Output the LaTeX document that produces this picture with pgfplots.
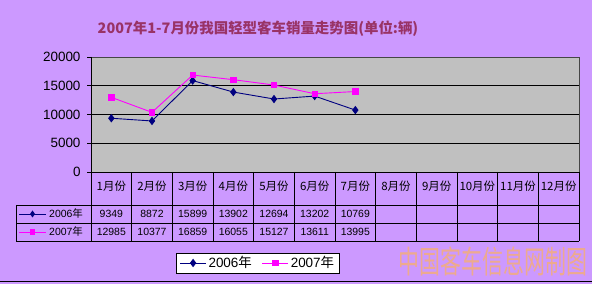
\documentclass[border=0pt]{standalone}
\usepackage{pgfplots}
\pgfplotsset{compat=1.18}
\usepackage{fontspec}
\setmainfont{Liberation Sans}
\newfontfamily\cjk{Noto Sans CJK SC}
\definecolor{bg}{HTML}{CC99FF}
\definecolor{plotbg}{HTML}{C0C0C0}
\definecolor{titlec}{HTML}{993366}
\definecolor{sA}{HTML}{000080}
\definecolor{sB}{HTML}{FF00FF}
\definecolor{wm}{HTML}{EDAA8E}
\begin{document}
\begin{tikzpicture}
\fill[bg] (0,0) rectangle (592bp,284bp);
\useasboundingbox (0,0) rectangle (592bp,284bp);
\node[text=titlec, font=\cjk\bfseries\fontsize{14.5}{16}\selectfont] at (258bp,255bp) {2007年1-7月份我国轻型客车销量走势图(单位:辆)};
\begin{axis}[
  at={(91bp,112bp)}, anchor=south west,
  scale only axis, width=488bp, height=115bp,
  xmin=0, xmax=12, ymin=0, ymax=20000,
  xtick=\empty, ytick={0,5000,10000,15000,20000},
  scaled y ticks=false,
  yticklabel style={/pgf/number format/1000 sep={}, font=\fontsize{13.5}{14}\selectfont, xshift=-3bp},
  /pgf/number format/assume math mode=true,
  axis background/.style={fill=plotbg},
  axis line style={draw=none},
  ymajorgrids, grid style={black, line width=0.9bp},
  tick align=outside, ytick pos=left, major tick length=4bp,
  tick style={black, line width=0.8bp},
  clip=false,
  legend columns=2,
  legend style={at={(rel axis cs:0.342,-0.791)}, anchor=center, draw=black, fill=white,
    font=\fontsize{13.5}{14}\selectfont, inner ysep=1.5bp, inner xsep=3bp,
    /tikz/every even column/.append style={column sep=8bp}},
  legend image code/.code={\draw[mark repeat=2,mark phase=2,#1] plot coordinates {(0bp,0bp) (13bp,0bp) (26bp,0bp)};},
]
\addplot[sA, line width=0.9bp, mark=diamond*, mark size=3.5bp, mark options={fill=sA, solid}]
  coordinates {(0.5,9349) (1.5,8872) (2.5,15899) (3.5,13902) (4.5,12694) (5.5,13202) (6.5,10769)};
\addlegendentry{2006{\cjk 年}}
\addplot[sB, line width=0.9bp, mark=square*, mark size=2.7bp, mark options={fill=sB, solid}]
  coordinates {(0.5,12985) (1.5,10377) (2.5,16859) (3.5,16055) (4.5,15127) (5.5,13611) (6.5,13995)};
\addlegendentry{2007{\cjk 年}}
\end{axis}
% frame
\draw[gray!55!black, line width=0.8bp] (91bp,227bp) -- (579bp,227bp) -- (579bp,112bp);
\draw[black, line width=0.8bp] (91bp,227bp) -- (91bp,43bp);
% table
\draw[black, line width=0.8bp] (91bp,112bp) -- (579bp,112bp);
\foreach \yy in {79,61,43} \draw[black, line width=0.8bp] (16bp,\yy bp) -- (579bp,\yy bp);
\draw[black, line width=0.8bp] (16bp,79bp) -- (16bp,43bp);
\foreach \k in {1,...,12} \draw[black, line width=0.8bp] ({91bp+\k*40.667bp},112bp) -- ({91bp+\k*40.667bp},43bp);
\foreach \m [count=\i from 0] in {1,...,12}
  \node[font=\cjk\fontsize{11.5}{12}\selectfont, inner sep=0pt] at ({91bp+(\i+0.5)*40.667bp},98bp) {\m 月份};
\foreach \v [count=\i from 0] in {9349,8872,15899,13902,12694,13202,10769}
  \node[font=\fontsize{10.5}{12}\selectfont, inner sep=0pt] at ({91bp+(\i+0.5)*40.667bp},70bp) {\v};
\foreach \v [count=\i from 0] in {12985,10377,16859,16055,15127,13611,13995}
  \node[font=\fontsize{10.5}{12}\selectfont, inner sep=0pt] at ({91bp+(\i+0.5)*40.667bp},52bp) {\v};
% table legend keys
\draw[sA, line width=0.9bp] (19bp,70bp) -- (46bp,70bp);
\fill[sA] (32.5bp,73.5bp) -- (35bp,70bp) -- (32.5bp,66.5bp) -- (30bp,70bp) -- cycle;
\node[font=\fontsize{10.5}{12}\selectfont, anchor=west, inner sep=0pt] at (49bp,70bp) {2006{\cjk 年}};
\draw[sB, line width=0.9bp] (19bp,52bp) -- (46bp,52bp);
\fill[sB] (29.8bp,49.3bp) rectangle (35.2bp,54.7bp);
\node[font=\fontsize{10.5}{12}\selectfont, anchor=west, inner sep=0pt] at (49bp,52bp) {2007{\cjk 年}};
% bottom line
\draw[black, line width=1bp] (0,2bp) -- (592bp,2bp);
% watermark
\node[text=wm, font=\cjk\fontsize{21}{21}\selectfont, yscale=1.5, inner sep=0pt] at (493bp,23bp) {中国客车信息网制图};
\end{tikzpicture}
\end{document}
